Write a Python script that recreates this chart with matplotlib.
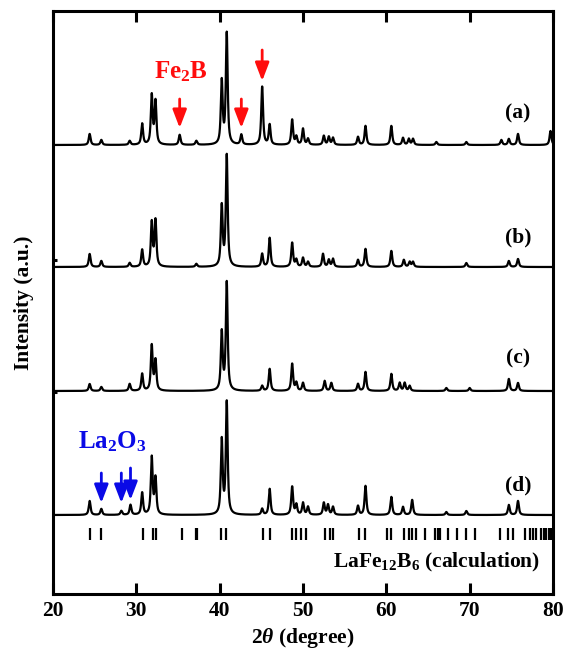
import numpy as np
import matplotlib
matplotlib.use('Agg')
import matplotlib.pyplot as plt

plt.rcParams['font.family'] = ['Liberation Serif', 'DejaVu Serif']
plt.rcParams['font.weight'] = 'bold'
plt.rcParams['mathtext.fontset'] = 'custom'
plt.rcParams['mathtext.rm'] = 'Liberation Serif:bold'
plt.rcParams['mathtext.it'] = 'Liberation Serif:italic:bold'
plt.rcParams['mathtext.bf'] = 'Liberation Serif:bold'

# ---------------- data ----------------
labels = ['(a)', '(b)', '(c)', '(d)']
offsets = [449, 327, 203, 79]

pos_a = [24.4, 25.8, 29.2, 30.7, 31.85, 32.3, 35.2, 37.2, 40.25, 40.85, 42.6, 45.1, 46.0, 48.7,
         49.2, 50.0, 50.6, 52.5, 53.1, 53.6, 56.6, 57.5, 60.6, 62.0, 62.7, 63.2, 66.0, 69.6,
         73.8, 74.7, 75.8, 79.7]
h_a = [11, 5, 4, 21, 49, 43, 10, 4, 63, 111, 10, 58, 20, 25,
       8, 16, 6, 9, 8, 7, 8, 19, 19, 7, 6, 6, 3, 3,
       5, 6, 11, 14]

pos_b = [24.4, 25.8, 29.2, 30.7, 31.85, 32.3, 37.2, 40.25, 40.85, 45.1, 46.0, 48.7, 49.2, 50.0,
         50.6, 52.4, 53.1, 53.6, 56.6, 57.5, 60.6, 62.1, 62.8, 63.2, 69.6, 74.7, 75.8]
h_b = [13, 6, 4, 17, 44, 46, 3, 60, 111, 13, 29, 24, 7, 9,
       5, 13, 7, 8, 7, 18, 16, 7, 5, 5, 4, 6, 8]

pos_c = [24.4, 25.8, 29.2, 30.7, 31.85, 32.3, 40.25, 40.85, 45.1, 46.0, 48.7, 49.2, 50.0,
         52.6, 53.4, 56.6, 57.5, 60.6, 61.6, 62.2, 62.8, 67.2, 70.0, 74.7, 75.8]
h_c = [7, 4, 7, 17, 45, 30, 58, 108, 5, 22, 27, 8, 8,
       10, 8, 7, 19, 17, 8, 8, 5, 3, 3, 12, 8]

pos_d = [24.4, 25.8, 28.2, 29.3, 30.7, 31.85, 32.3, 40.25, 40.85, 45.1, 46.0, 48.7, 49.2, 50.0,
         50.6, 52.5, 53.0, 53.6, 56.6, 57.5, 60.6, 62.0, 63.1, 67.2, 69.6, 74.7, 75.8]
h_d = [14, 6, 4, 10, 22, 57, 36, 74, 112, 6, 26, 28, 10, 12,
       8, 12, 10, 8, 9, 29, 18, 8, 15, 3, 4, 10, 14]

calc_pos = [24.4, 25.8, 30.8, 32.0, 32.4, 35.5, 37.1, 37.3, 40.2, 40.7, 45.2, 46.0, 48.7, 49.2,
            49.7, 50.3, 52.6, 53.2, 53.6, 56.7, 57.4, 60.1, 60.6, 62.1, 62.7, 63.1, 63.5, 64.6,
            65.8, 66.2, 66.4, 67.4, 68.5, 69.5, 70.6, 73.6, 74.6, 75.2, 76.6, 77.2, 77.6, 78.0,
            78.6, 78.9, 79.2, 79.5, 79.8]

xticks = [20, 30, 40, 50, 60, 70, 80]

# ---------------- figure ----------------
fig = plt.figure(figsize=(5.66, 6.60), dpi=100)
ax = fig.add_axes([53/566, 66/660, 500/566, 583/660])

x = np.arange(20.0, 80.0001, 0.01)

def profile(pos, h, base, w=0.26, eta=0.8):
    y = np.full_like(x, float(base))
    for p, hh in zip(pos, h):
        t = (x - p) / (w / 2)
        y += hh * (eta / (1 + t**2) + (1 - eta) * np.exp(-np.log(2) * t**2))
    return y

series = [(pos_a, h_a), (pos_b, h_b), (pos_c, h_c), (pos_d, h_d)]
for (p, h), off in zip(series, offsets):
    ax.plot(x, profile(p, h, off), color='black', lw=1.6)

label_y = [481, 357, 236, 109]
for lab, ly in zip(labels, label_y):
    ax.text(75.8, ly, lab, ha='center', va='center', fontsize=15.5, fontweight='bold')

# calculated reflection ticks
ax.plot(calc_pos, [60] * len(calc_pos), ls='none', marker='|', ms=8, mew=1.6, color='black')
ax.text(78.4, 32, r'LaFe$_{\mathrm{12}}$B$_{\mathrm{6}}$ (calculation)', ha='right', va='center',
        fontsize=15.5, fontweight='bold')

# Fe2B arrows
arr_red = [(35.2, 495, 466), (42.6, 495, 466), (45.1, 544, 513)]
for xx, yt, yh in arr_red:
    ax.annotate('', xy=(xx, yh), xytext=(xx, yt),
                arrowprops=dict(arrowstyle='-|>,head_length=1.1,head_width=0.42',
                                color='#ff0d0d', lw=2, shrinkA=0, shrinkB=0))
ax.text(35.4, 522, r'Fe$_{\mathrm{2}}$B', color='#ff0d0d', ha='center', va='center',
        fontsize=18, fontweight='bold')

arr_blue = [(25.8, 121, 91), (28.2, 121, 91), (29.3, 126, 94)]
for xx, yt, yh in arr_blue:
    ax.annotate('', xy=(xx, yh), xytext=(xx, yt),
                arrowprops=dict(arrowstyle='-|>,head_length=1.1,head_width=0.42',
                                color='#0a0ae6', lw=2, shrinkA=0, shrinkB=0))
ax.text(27.1, 152, r'La$_{\mathrm{2}}$O$_{\mathrm{3}}$', color='#0a0ae6', ha='center', va='center',
        fontsize=18, fontweight='bold')

ax.set_xlim(20, 80)
ax.set_ylim(0, 583)
ax.set_xticks(xticks)
ax.set_xticklabels([str(t) for t in xticks])
ax.set_yticks([202, 334])
ax.set_yticklabels([])
ax.tick_params(axis='x', direction='in', length=8, width=2.2, top=True, labelsize=15.5, pad=5)
ax.tick_params(axis='y', direction='in', length=3, width=2.2, right=False)
for s in ax.spines.values():
    s.set_linewidth(2.2)
for lab in ax.get_xticklabels():
    lab.set_fontweight('bold')

ax.set_xlabel(r'2$\theta$ (degree)', fontsize=15.5, fontweight='bold', labelpad=4)
ax.set_ylabel('Intensity (a.u.)', fontsize=15.5, fontweight='bold', labelpad=10)

fig.savefig('out.png', dpi=100)
